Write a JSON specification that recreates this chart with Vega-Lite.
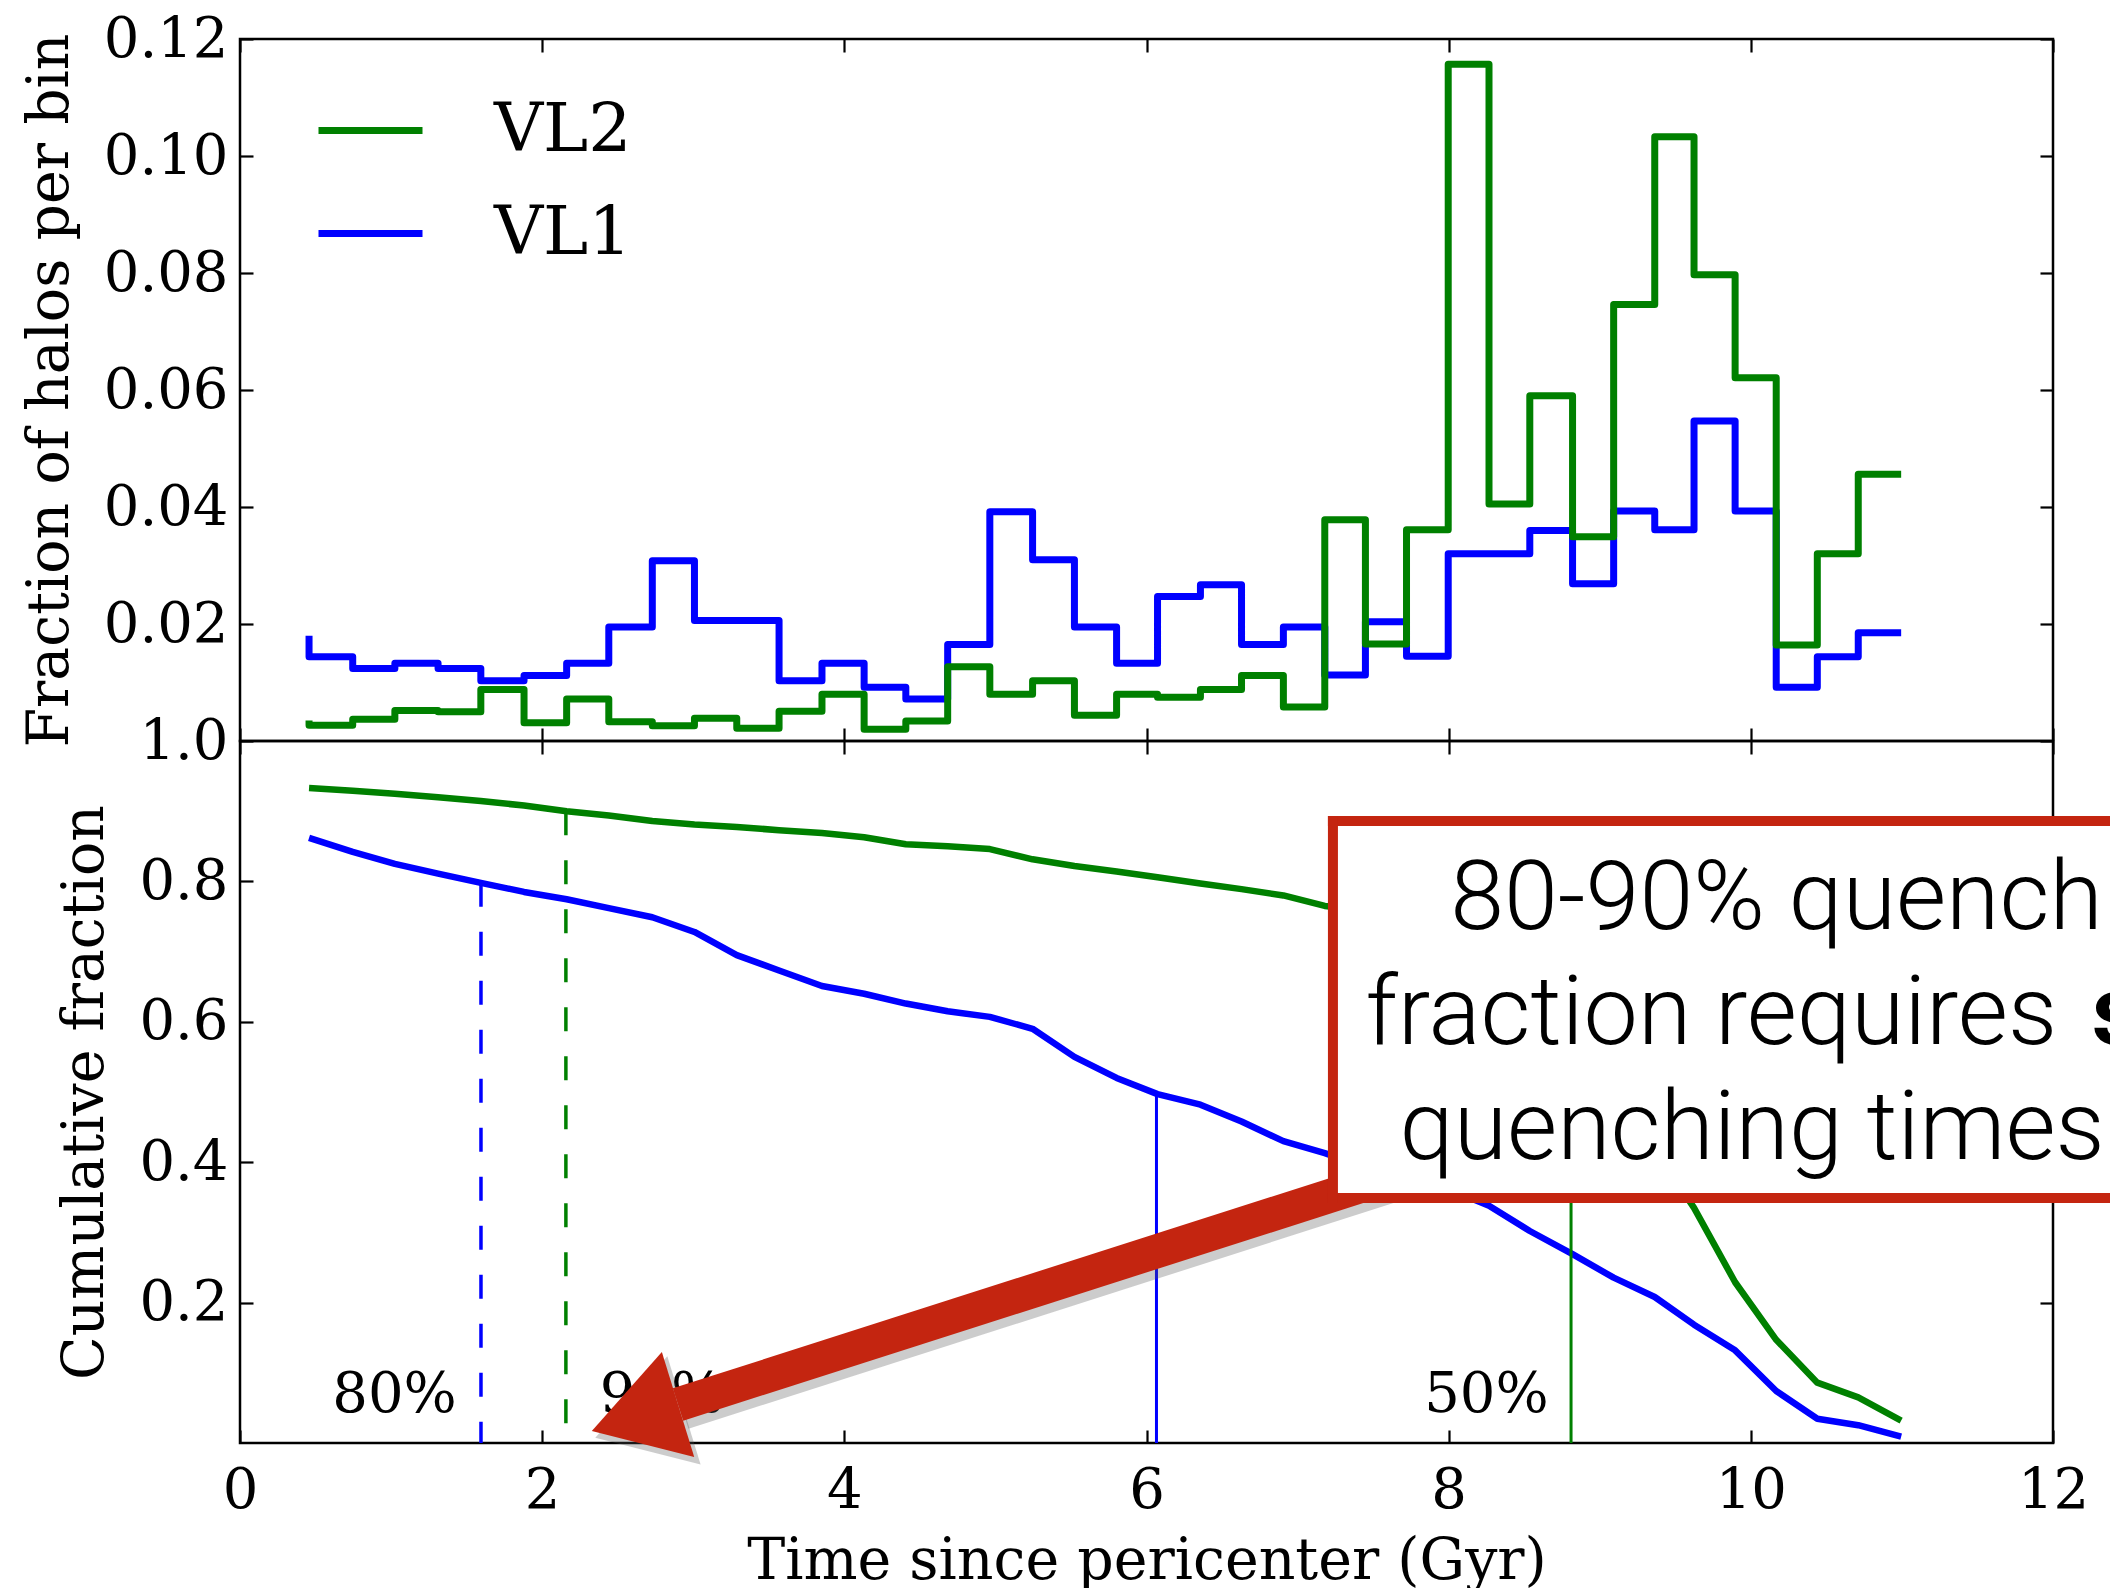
{
  "$schema": "https://vega.github.io/schema/vega-lite/v6.json",
  "background": "white",
  "padding": {"left": 20, "top": 9, "right": 0, "bottom": 0},
  "spacing": 0,
  "bounds": "flush",
  "config": {
    "view": {"stroke": "black", "strokeWidth": 2.5},
    "axis": {
      "domain": false, "grid": false, "tickColor": "black", "tickWidth": 2.2, "tickSize": -13,
      "labelFont": "DejaVu Serif", "labelFontSize": 56, "labelColor": "black",
      "titleFont": "DejaVu Serif", "titleFontSize": 57, "titleFontWeight": "normal", "titleColor": "black",
      "labelFlush": false, "labelOverlap": false
    },
    "axisX": {"labelPadding": 33, "titlePadding": 15},
    "axisY": {"labelPadding": 25, "titlePadding": 24}
  },
  "resolve": {"scale": {"color": "independent"}, "legend": {"color": "independent"}},
  "datasets": {
    "hist": [
      {"sim":"VL1","t":0.457,"frac":0.0180},{"sim":"VL1","t":0.746,"frac":0.0144},{"sim":"VL1","t":1.025,"frac":0.0124},
      {"sim":"VL1","t":1.311,"frac":0.0133},{"sim":"VL1","t":1.594,"frac":0.0124},{"sim":"VL1","t":1.880,"frac":0.0103},
      {"sim":"VL1","t":2.162,"frac":0.0112},{"sim":"VL1","t":2.441,"frac":0.0133},{"sim":"VL1","t":2.729,"frac":0.0195},
      {"sim":"VL1","t":3.008,"frac":0.0308},{"sim":"VL1","t":3.288,"frac":0.0206},{"sim":"VL1","t":3.568,"frac":0.0206},
      {"sim":"VL1","t":3.852,"frac":0.0103},{"sim":"VL1","t":4.131,"frac":0.0133},{"sim":"VL1","t":4.407,"frac":0.0092},
      {"sim":"VL1","t":4.684,"frac":0.0072},{"sim":"VL1","t":4.963,"frac":0.0165},{"sim":"VL1","t":5.246,"frac":0.0392},
      {"sim":"VL1","t":5.523,"frac":0.0310},{"sim":"VL1","t":5.802,"frac":0.0195},{"sim":"VL1","t":6.073,"frac":0.0133},
      {"sim":"VL1","t":6.357,"frac":0.0247},{"sim":"VL1","t":6.629,"frac":0.0267},{"sim":"VL1","t":6.906,"frac":0.0165},
      {"sim":"VL1","t":7.180,"frac":0.0195},{"sim":"VL1","t":7.449,"frac":0.0113},{"sim":"VL1","t":7.721,"frac":0.0204},
      {"sim":"VL1","t":7.997,"frac":0.0145},{"sim":"VL1","t":8.267,"frac":0.0320},{"sim":"VL1","t":8.537,"frac":0.0320},
      {"sim":"VL1","t":8.820,"frac":0.0360},{"sim":"VL1","t":9.092,"frac":0.0269},{"sim":"VL1","t":9.364,"frac":0.0393},
      {"sim":"VL1","t":9.624,"frac":0.0361},{"sim":"VL1","t":9.896,"frac":0.0547},{"sim":"VL1","t":10.168,"frac":0.0393},
      {"sim":"VL1","t":10.440,"frac":0.0092},{"sim":"VL1","t":10.711,"frac":0.0144},{"sim":"VL1","t":10.995,"frac":0.0185},
      {"sim":"VL2","t":0.457,"frac":0.0035},{"sim":"VL2","t":0.746,"frac":0.0027},{"sim":"VL2","t":1.025,"frac":0.0037},
      {"sim":"VL2","t":1.311,"frac":0.0052},{"sim":"VL2","t":1.594,"frac":0.0050},{"sim":"VL2","t":1.880,"frac":0.0088},
      {"sim":"VL2","t":2.162,"frac":0.0031},{"sim":"VL2","t":2.441,"frac":0.0072},{"sim":"VL2","t":2.729,"frac":0.0033},
      {"sim":"VL2","t":3.008,"frac":0.0026},{"sim":"VL2","t":3.288,"frac":0.0039},{"sim":"VL2","t":3.568,"frac":0.0022},
      {"sim":"VL2","t":3.852,"frac":0.0051},{"sim":"VL2","t":4.131,"frac":0.0080},{"sim":"VL2","t":4.407,"frac":0.0020},
      {"sim":"VL2","t":4.684,"frac":0.0034},{"sim":"VL2","t":4.963,"frac":0.0127},{"sim":"VL2","t":5.246,"frac":0.0080},
      {"sim":"VL2","t":5.523,"frac":0.0103},{"sim":"VL2","t":5.802,"frac":0.0044},{"sim":"VL2","t":6.073,"frac":0.0080},
      {"sim":"VL2","t":6.357,"frac":0.0075},{"sim":"VL2","t":6.629,"frac":0.0088},{"sim":"VL2","t":6.906,"frac":0.0112},
      {"sim":"VL2","t":7.180,"frac":0.0058},{"sim":"VL2","t":7.449,"frac":0.0378},{"sim":"VL2","t":7.721,"frac":0.0166},
      {"sim":"VL2","t":7.997,"frac":0.0361},{"sim":"VL2","t":8.267,"frac":0.1157},{"sim":"VL2","t":8.537,"frac":0.0405},
      {"sim":"VL2","t":8.820,"frac":0.0590},{"sim":"VL2","t":9.092,"frac":0.0349},{"sim":"VL2","t":9.364,"frac":0.0746},
      {"sim":"VL2","t":9.624,"frac":0.1033},{"sim":"VL2","t":9.896,"frac":0.0797},{"sim":"VL2","t":10.168,"frac":0.0621},
      {"sim":"VL2","t":10.440,"frac":0.0164},{"sim":"VL2","t":10.711,"frac":0.0320},{"sim":"VL2","t":10.995,"frac":0.0456}
    ],
    "cum": [
      {"sim":"VL1","t":0.457,"cf":0.862},{"sim":"VL1","t":0.746,"cf":0.842},{"sim":"VL1","t":1.025,"cf":0.825},
      {"sim":"VL1","t":1.311,"cf":0.811},{"sim":"VL1","t":1.594,"cf":0.798},{"sim":"VL1","t":1.880,"cf":0.785},
      {"sim":"VL1","t":2.162,"cf":0.7745},{"sim":"VL1","t":2.441,"cf":0.762},{"sim":"VL1","t":2.729,"cf":0.749},
      {"sim":"VL1","t":3.008,"cf":0.728},{"sim":"VL1","t":3.288,"cf":0.695},{"sim":"VL1","t":3.568,"cf":0.673},
      {"sim":"VL1","t":3.852,"cf":0.651},{"sim":"VL1","t":4.131,"cf":0.640},{"sim":"VL1","t":4.407,"cf":0.626},
      {"sim":"VL1","t":4.684,"cf":0.615},{"sim":"VL1","t":4.963,"cf":0.607},{"sim":"VL1","t":5.246,"cf":0.590},
      {"sim":"VL1","t":5.523,"cf":0.550},{"sim":"VL1","t":5.802,"cf":0.520},{"sim":"VL1","t":6.073,"cf":0.497},
      {"sim":"VL1","t":6.357,"cf":0.482},{"sim":"VL1","t":6.629,"cf":0.458},{"sim":"VL1","t":6.906,"cf":0.430},
      {"sim":"VL1","t":7.180,"cf":0.413},{"sim":"VL1","t":7.449,"cf":0.393},{"sim":"VL1","t":7.721,"cf":0.381},
      {"sim":"VL1","t":7.997,"cf":0.362},{"sim":"VL1","t":8.267,"cf":0.338},{"sim":"VL1","t":8.537,"cf":0.302},
      {"sim":"VL1","t":8.820,"cf":0.269},{"sim":"VL1","t":9.092,"cf":0.2355},{"sim":"VL1","t":9.364,"cf":0.208},
      {"sim":"VL1","t":9.624,"cf":0.1685},{"sim":"VL1","t":9.896,"cf":0.132},{"sim":"VL1","t":10.168,"cf":0.074},
      {"sim":"VL1","t":10.440,"cf":0.0345},{"sim":"VL1","t":10.711,"cf":0.0254},{"sim":"VL1","t":10.995,"cf":0.009},
      {"sim":"VL2","t":0.457,"cf":0.933},{"sim":"VL2","t":0.746,"cf":0.929},{"sim":"VL2","t":1.025,"cf":0.925},
      {"sim":"VL2","t":1.311,"cf":0.920},{"sim":"VL2","t":1.594,"cf":0.9145},{"sim":"VL2","t":1.880,"cf":0.908},
      {"sim":"VL2","t":2.162,"cf":0.900},{"sim":"VL2","t":2.441,"cf":0.894},{"sim":"VL2","t":2.729,"cf":0.886},
      {"sim":"VL2","t":3.008,"cf":0.881},{"sim":"VL2","t":3.288,"cf":0.8775},{"sim":"VL2","t":3.568,"cf":0.873},
      {"sim":"VL2","t":3.852,"cf":0.869},{"sim":"VL2","t":4.131,"cf":0.863},{"sim":"VL2","t":4.407,"cf":0.853},
      {"sim":"VL2","t":4.684,"cf":0.850},{"sim":"VL2","t":4.963,"cf":0.846},{"sim":"VL2","t":5.246,"cf":0.8315},
      {"sim":"VL2","t":5.523,"cf":0.822},{"sim":"VL2","t":5.802,"cf":0.814},{"sim":"VL2","t":6.073,"cf":0.806},
      {"sim":"VL2","t":6.357,"cf":0.797},{"sim":"VL2","t":6.629,"cf":0.789},{"sim":"VL2","t":6.906,"cf":0.780},
      {"sim":"VL2","t":7.180,"cf":0.765},{"sim":"VL2","t":7.449,"cf":0.759},{"sim":"VL2","t":7.721,"cf":0.721},
      {"sim":"VL2","t":7.997,"cf":0.705},{"sim":"VL2","t":8.267,"cf":0.669},{"sim":"VL2","t":8.537,"cf":0.553},
      {"sim":"VL2","t":8.820,"cf":0.513},{"sim":"VL2","t":9.092,"cf":0.454},{"sim":"VL2","t":9.364,"cf":0.419},
      {"sim":"VL2","t":9.624,"cf":0.335},{"sim":"VL2","t":9.896,"cf":0.229},{"sim":"VL2","t":10.168,"cf":0.147},
      {"sim":"VL2","t":10.440,"cf":0.086},{"sim":"VL2","t":10.711,"cf":0.065},{"sim":"VL2","t":10.995,"cf":0.032}
    ],
    "quench": [
      {"sim":"VL1","level":"80%","t":1.595,"cf":0.798},
      {"sim":"VL2","level":"90%","t":2.157,"cf":0.900},
      {"sim":"VL1","level":"50%","t":6.066,"cf":0.497},
      {"sim":"VL2","level":"50%","t":8.81,"cf":0.513}
    ],
    "pct": [
      {"label":"80%","t":1.0225,"cf":0.068},
      {"label":"90%","t":2.793,"cf":0.068},
      {"label":"50%","t":8.25,"cf":0.068}
    ],
    "note": [
      {"line":"80-90% quench","t":8.01,"cf":0.7326},
      {"line":"fraction requires ","t":7.45,"cf":0.5688},
      {"line":"quenching times","t":7.675,"cf":0.405}
    ],
    "one": [{}]
  },
  "vconcat": [
    {
      "width": 1813, "height": 702,
      "layer": [
        {
          "data": {"name": "hist"},
          "mark": {"type": "line", "interpolate": "step-before", "strokeWidth": 7, "strokeJoin": "round", "strokeCap": "butt"},
          "encoding": {
            "x": {"field": "t", "type": "quantitative", "scale": {"domain": [0, 12], "nice": false, "zero": false},
                  "axis": {"orient": "bottom", "values": [0,2,4,6,8,10,12], "labels": false, "title": null}},
            "y": {"field": "frac", "type": "quantitative", "scale": {"domain": [0, 0.12], "nice": false},
                  "axis": {"orient": "left", "values": [0.02,0.04,0.06,0.08,0.10,0.12], "format": ".2f", "title": "Fraction of halos per bin"}},
            "color": {"field": "sim", "type": "nominal",
                      "scale": {"domain": ["VL2", "VL1"], "range": ["#008000", "#0000ff"]},
                      "legend": {"orient": "none", "legendX": 75, "legendY": 36, "title": null, "symbolType": "stroke",
                                 "symbolStrokeWidth": 7, "symbolSize": 10816, "labelFont": "DejaVu Serif", "labelFontSize": 68,
                                 "labelColor": "black", "labelOffset": 68, "rowPadding": 13, "padding": 0}}
          }
        },
        {
          "data": {"name": "hist"},
          "mark": {"type": "point", "opacity": 0},
          "encoding": {
            "x": {"field": "t", "type": "quantitative", "scale": {"domain": [0, 12], "nice": false, "zero": false},
                  "axis": {"orient": "top", "values": [0,2,4,6,8,10,12], "labels": false, "title": null}},
            "y": {"field": "frac", "type": "quantitative", "scale": {"domain": [0, 0.12], "nice": false},
                  "axis": {"orient": "right", "values": [0.02,0.04,0.06,0.08,0.10,0.12], "labels": false, "title": null}}
          }
        }
      ],
      "resolve": {"axis": {"x": "independent", "y": "independent"}}
    },
    {
      "width": 1813, "height": 702,
      "layer": [
        {
          "layer": [
            {
              "data": {"name": "cum"},
              "mark": {"type": "line", "strokeWidth": 6.5, "strokeJoin": "round"},
              "encoding": {
                "x": {"field": "t", "type": "quantitative", "scale": {"domain": [0, 12], "nice": false, "zero": false},
                      "axis": {"orient": "bottom", "values": [0,2,4,6,8,10,12], "format": "d", "title": "Time since pericenter (Gyr)"}},
                "y": {"field": "cf", "type": "quantitative", "scale": {"domain": [0, 1], "nice": false},
                      "axis": {"orient": "left", "values": [0.2,0.4,0.6,0.8,1.0], "format": ".1f", "title": "Cumulative fraction"}},
                "color": {"field": "sim", "type": "nominal", "scale": {"domain": ["VL2", "VL1"], "range": ["#008000", "#0000ff"]}, "legend": null}
              }
            },
            {
              "data": {"name": "quench"},
              "transform": [{"filter": "datum.level != '50%'"}],
              "mark": {"type": "rule", "strokeWidth": 3.5, "strokeDash": [24, 25]},
              "encoding": {
                "x": {"field": "t", "type": "quantitative", "scale": {"domain": [0, 12], "nice": false, "zero": false}},
                "y": {"field": "cf", "type": "quantitative", "scale": {"domain": [0, 1], "nice": false}},
                "y2": {"datum": 0},
                "color": {"field": "sim", "type": "nominal", "scale": {"domain": ["VL2", "VL1"], "range": ["#008000", "#0000ff"]}, "legend": null}
              }
            },
            {
              "data": {"name": "quench"},
              "transform": [{"filter": "datum.level == '50%'"}],
              "mark": {"type": "rule", "strokeWidth": 3},
              "encoding": {
                "x": {"field": "t", "type": "quantitative", "scale": {"domain": [0, 12], "nice": false, "zero": false}},
                "y": {"field": "cf", "type": "quantitative", "scale": {"domain": [0, 1], "nice": false}},
                "y2": {"datum": 0},
                "color": {"field": "sim", "type": "nominal", "scale": {"domain": ["VL2", "VL1"], "range": ["#008000", "#0000ff"]}, "legend": null}
              }
            },
            {
              "data": {"name": "pct"},
              "mark": {"type": "text", "font": "DejaVu Serif", "fontSize": 56, "color": "black", "align": "center", "baseline": "middle"},
              "encoding": {
                "x": {"field": "t", "type": "quantitative", "scale": {"domain": [0, 12], "nice": false, "zero": false}},
                "y": {"field": "cf", "type": "quantitative", "scale": {"domain": [0, 1], "nice": false}},
                "text": {"field": "label"}
              }
            },
            {
              "data": {"name": "one"},
              "mark": {"type": "rule", "color": "#555555", "opacity": 0.3, "strokeWidth": 38},
              "encoding": {
                "x": {"datum": 2.93, "type": "quantitative", "scale": {"domain": [0, 12], "nice": false, "zero": false}},
                "y": {"datum": 0.046, "type": "quantitative", "scale": {"domain": [0, 1], "nice": false}},
                "x2": {"datum": 7.85},
                "y2": {"datum": 0.385}
              }
            },
            {
              "data": {"name": "one"},
              "mark": {"type": "point", "shape": "M -0.82 0 L 0.82 -1 L 0.82 1 Z", "filled": true, "size": 12800, "angle": 342.9, "color": "#555555", "opacity": 0.3, "strokeWidth": 0},
              "encoding": {
                "x": {"datum": 2.645, "type": "quantitative", "scale": {"domain": [0, 12], "nice": false, "zero": false}},
                "y": {"datum": 0.027, "type": "quantitative", "scale": {"domain": [0, 1], "nice": false}}
              }
            },
            {
              "data": {"name": "one"},
              "mark": {"type": "rule", "color": "#c42510", "strokeWidth": 34, "strokeCap": "butt"},
              "encoding": {
                "x": {"datum": 2.899, "type": "quantitative", "scale": {"domain": [0, 12], "nice": false, "zero": false}},
                "y": {"datum": 0.0548, "type": "quantitative", "scale": {"domain": [0, 1], "nice": false}},
                "x2": {"datum": 7.823},
                "y2": {"datum": 0.394}
              }
            },
            {
              "data": {"name": "one"},
              "mark": {"type": "point", "shape": "M -0.82 0 L 0.82 -1 L 0.82 1 Z", "filled": true, "size": 12100, "angle": 342.9, "color": "#c42510", "opacity": 1, "strokeWidth": 0},
              "encoding": {
                "x": {"datum": 2.614, "type": "quantitative", "scale": {"domain": [0, 12], "nice": false, "zero": false}},
                "y": {"datum": 0.036, "type": "quantitative", "scale": {"domain": [0, 1], "nice": false}}
              }
            },
            {
              "data": {"name": "one"},
              "mark": {"type": "rect", "color": "white", "opacity": 1},
              "encoding": {
                "x": {"datum": 7.234, "type": "quantitative", "scale": {"domain": [0, 12], "nice": false, "zero": false}},
                "x2": {"datum": 12.39},
                "y": {"datum": 0.349, "type": "quantitative", "scale": {"domain": [0, 1], "nice": false}},
                "y2": {"datum": 0.886}
              }
            },
            {
              "data": {"name": "one"},
              "mark": {"type": "rule", "color": "#c42510", "strokeWidth": 10, "strokeCap": "square"},
              "encoding": {
                "x": {"datum": 7.234, "type": "quantitative", "scale": {"domain": [0, 12], "nice": false, "zero": false}},
                "x2": {"datum": 12.39},
                "y": {"datum": 0.886, "type": "quantitative", "scale": {"domain": [0, 1], "nice": false}}
              }
            },
            {
              "data": {"name": "one"},
              "mark": {"type": "rule", "color": "#c42510", "strokeWidth": 10, "strokeCap": "square"},
              "encoding": {
                "x": {"datum": 7.234, "type": "quantitative", "scale": {"domain": [0, 12], "nice": false, "zero": false}},
                "x2": {"datum": 12.39},
                "y": {"datum": 0.349, "type": "quantitative", "scale": {"domain": [0, 1], "nice": false}}
              }
            },
            {
              "data": {"name": "one"},
              "mark": {"type": "rule", "color": "#c42510", "strokeWidth": 10, "strokeCap": "square"},
              "encoding": {
                "x": {"datum": 7.234, "type": "quantitative", "scale": {"domain": [0, 12], "nice": false, "zero": false}},
                "y": {"datum": 0.349, "type": "quantitative", "scale": {"domain": [0, 1], "nice": false}},
                "y2": {"datum": 0.886}
              }
            },
            {
              "data": {"name": "note"},
              "mark": {"type": "text", "font": "Roboto", "fontWeight": 300, "fontSize": 97, "color": "black", "align": "left", "baseline": "alphabetic"},
              "encoding": {
                "x": {"field": "t", "type": "quantitative", "scale": {"domain": [0, 12], "nice": false, "zero": false}},
                "y": {"field": "cf", "type": "quantitative", "scale": {"domain": [0, 1], "nice": false}},
                "text": {"field": "line"}
              }
            },
            {
              "data": {"name": "one"},
              "mark": {"type": "text", "text": "s", "font": "Roboto", "fontWeight": "bold", "fontSize": 97, "color": "black", "align": "left", "baseline": "alphabetic"},
              "encoding": {
                "x": {"datum": 12.257, "type": "quantitative", "scale": {"domain": [0, 12], "nice": false, "zero": false}},
                "y": {"datum": 0.5688, "type": "quantitative", "scale": {"domain": [0, 1], "nice": false}}
              }
            }
          ]
        },
        {
          "data": {"name": "cum"},
          "mark": {"type": "point", "opacity": 0},
          "encoding": {
            "x": {"field": "t", "type": "quantitative", "scale": {"domain": [0, 12], "nice": false, "zero": false},
                  "axis": {"orient": "top", "values": [0,2,4,6,8,10,12], "labels": false, "title": null}},
            "y": {"field": "cf", "type": "quantitative", "scale": {"domain": [0, 1], "nice": false},
                  "axis": {"orient": "right", "values": [0.2,0.4,0.6,0.8,1.0], "labels": false, "title": null}}
          }
        }
      ],
      "resolve": {"axis": {"x": "independent", "y": "independent"}}
    }
  ]
}
